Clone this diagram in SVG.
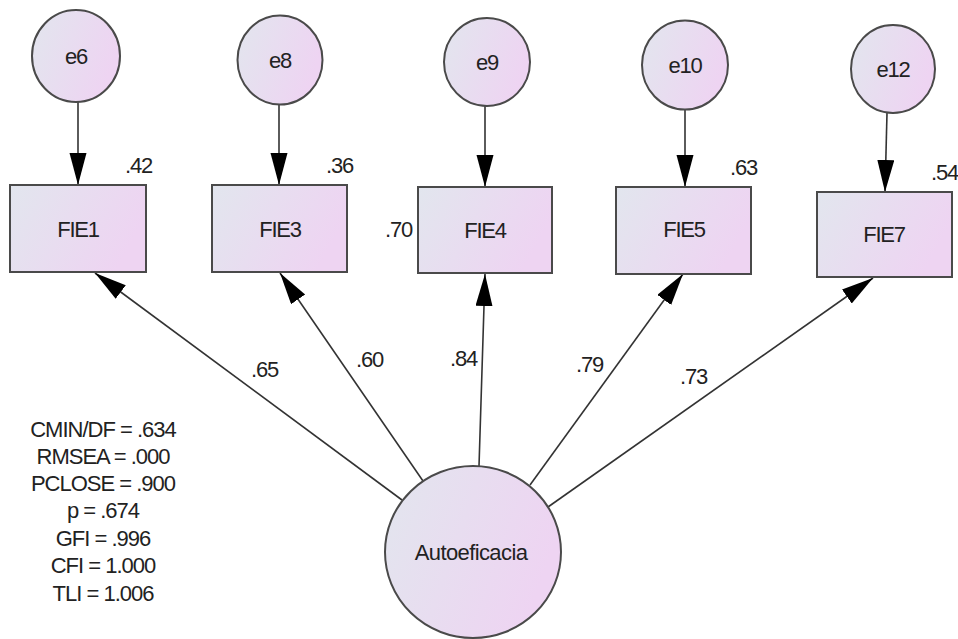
<svg xmlns="http://www.w3.org/2000/svg" width="958" height="639" viewBox="0 0 958 639">
  <defs>
    <linearGradient id="fillGrad" x1="0" y1="0" x2="1" y2="0.35">
      <stop offset="0" stop-color="#e2e6ee"/>
      <stop offset="1" stop-color="#eed4f2"/>
    </linearGradient>
    <marker id="arrow" markerUnits="userSpaceOnUse" markerWidth="34" markerHeight="18" refX="32" refY="8.5" orient="auto">
      <path d="M0,0 L32,8.5 L0,17 Z" fill="#000"/>
    </marker>
    <style>
      .node { fill: url(#fillGrad); stroke: #4a4a4a; stroke-width: 2; }
      .lbl { font-family: "Liberation Sans", Arial, sans-serif; font-size: 22px; letter-spacing: -1.2px; fill: #222; text-anchor: middle; }
      .big { letter-spacing: -0.6px; }
      .num { font-family: "Liberation Sans", Arial, sans-serif; font-size: 22px; letter-spacing: -1.2px; fill: #222; }
      .stat { font-family: "Liberation Sans", Arial, sans-serif; font-size: 22px; letter-spacing: -1px; fill: #222; text-anchor: middle; }
      .conn { stroke: #333; stroke-width: 1.6; fill: none; marker-end: url(#arrow); }
    </style>
  </defs>
  <rect width="958" height="639" fill="#ffffff"/>

  <g id="connectors">
    <line class="conn" x1="78" y1="102" x2="78" y2="185"/>
    <line class="conn" x1="279" y1="105" x2="279" y2="185"/>
    <line class="conn" x1="485" y1="106" x2="485" y2="187"/>
    <line class="conn" x1="685" y1="110" x2="685" y2="187"/>
    <line class="conn" x1="887" y1="113" x2="885" y2="192"/>
    <line class="conn" x1="402" y1="500" x2="95" y2="273"/>
    <line class="conn" x1="423" y1="481" x2="280" y2="273"/>
    <line class="conn" x1="479" y1="466" x2="485" y2="274"/>
    <line class="conn" x1="530" y1="485" x2="683" y2="274"/>
    <line class="conn" x1="548" y1="507" x2="873" y2="278"/>
    <text class="num" x="251" y="377">.65</text>
    <text class="num" x="356" y="367">.60</text>
    <text class="num" x="450" y="366">.84</text>
    <text class="num" x="576" y="372">.79</text>
    <text class="num" x="680" y="384">.73</text>
  </g>

  <g id="e6">
    <ellipse class="node" cx="76" cy="56" rx="44" ry="46"/>
    <text class="lbl" x="76" y="64">e6</text>
  </g>
  <g id="e8">
    <ellipse class="node" cx="280" cy="60" rx="42.5" ry="44.5"/>
    <text class="lbl" x="280" y="68">e8</text>
  </g>
  <g id="e9">
    <ellipse class="node" cx="487" cy="62" rx="43" ry="44"/>
    <text class="lbl" x="487" y="70">e9</text>
  </g>
  <g id="e10">
    <ellipse class="node" cx="685" cy="65" rx="43" ry="44.5"/>
    <text class="lbl" x="685" y="73">e10</text>
  </g>
  <g id="e12">
    <ellipse class="node" cx="893" cy="69" rx="42" ry="44"/>
    <text class="lbl" x="893" y="77">e12</text>
  </g>

  <g id="FIE1">
    <rect class="node" x="10" y="185" width="136" height="87"/>
    <text class="lbl" x="78" y="237">FIE1</text>
    <text class="num" x="125" y="173">.42</text>
  </g>
  <g id="FIE3">
    <rect class="node" x="212" y="185" width="135" height="87"/>
    <text class="lbl" x="280" y="237">FIE3</text>
    <text class="num" x="326" y="173">.36</text>
  </g>
  <g id="FIE4">
    <rect class="node" x="418" y="187" width="134" height="86"/>
    <text class="lbl" x="485" y="238">FIE4</text>
    <text class="num" x="385" y="237">.70</text>
  </g>
  <g id="FIE5">
    <rect class="node" x="616" y="187" width="135" height="87"/>
    <text class="lbl" x="684" y="237">FIE5</text>
    <text class="num" x="730" y="175">.63</text>
  </g>
  <g id="FIE7">
    <rect class="node" x="817" y="192" width="135" height="85"/>
    <text class="lbl" x="884" y="242">FIE7</text>
    <text class="num" x="931" y="180">.54</text>
  </g>

  <g id="Autoeficacia">
    <ellipse class="node" cx="473" cy="552" rx="88" ry="86"/>
    <text class="lbl big" x="471" y="560">Autoeficacia</text>
  </g>

  <g id="fit-stats">
    <text class="stat" x="103" y="437">CMIN/DF = .634</text>
    <text class="stat" x="103" y="464">RMSEA = .000</text>
    <text class="stat" x="103" y="491">PCLOSE = .900</text>
    <text class="stat" x="103" y="518">p = .674</text>
    <text class="stat" x="103" y="546">GFI = .996</text>
    <text class="stat" x="103" y="573">CFI = 1.000</text>
    <text class="stat" x="103" y="601">TLI = 1.006</text>
  </g>
</svg>
